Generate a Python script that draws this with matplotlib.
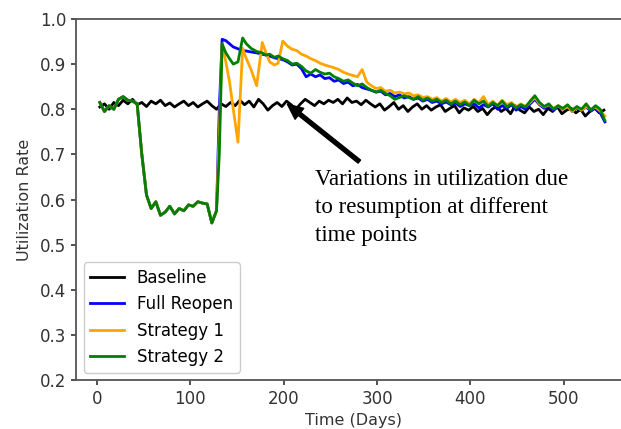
import numpy as np
import matplotlib
matplotlib.use("Agg")
import matplotlib.pyplot as plt

# baseline, every 5 days from day 3
base_days = list(range(3, 544, 5))
baseline = [
    0.805, 0.812, 0.800, 0.815, 0.808, 0.820, 0.812, 0.822, 0.810, 0.815,
    0.806, 0.818, 0.812, 0.820, 0.808, 0.814, 0.805, 0.812, 0.818, 0.808,
    0.815, 0.805, 0.812, 0.818, 0.808, 0.800, 0.812, 0.806, 0.815, 0.808,
    0.820, 0.810, 0.818, 0.805, 0.822, 0.812, 0.798, 0.808, 0.815, 0.806,
    0.818, 0.810, 0.800, 0.812, 0.822, 0.815, 0.808, 0.818, 0.812, 0.820,
    0.815, 0.822, 0.812, 0.825, 0.815, 0.818, 0.810, 0.820, 0.812, 0.805,
    0.812, 0.798, 0.806, 0.815, 0.800, 0.808, 0.795, 0.805, 0.812, 0.800,
    0.808, 0.798, 0.805, 0.810, 0.795, 0.802, 0.808, 0.792, 0.803, 0.798,
    0.806, 0.795, 0.802, 0.788, 0.800, 0.806, 0.795, 0.802, 0.790, 0.808,
    0.798, 0.792, 0.805, 0.795, 0.800, 0.788, 0.802, 0.795, 0.806, 0.790,
    0.798, 0.802, 0.792, 0.800, 0.785, 0.795, 0.803, 0.792, 0.798,
]

# lockdown phase shared by the three reopening scenarios
pre_days = list(range(3, 129, 5))
lockdown = [
    0.815, 0.795, 0.808, 0.800, 0.822, 0.828, 0.820, 0.818, 0.812, 0.700,
    0.610, 0.580, 0.595, 0.565, 0.572, 0.585, 0.568, 0.580, 0.575, 0.588,
    0.585, 0.595, 0.592, 0.590, 0.548, 0.575,
]

# after reopening
post_days = [131, 134, 138, 142, 146, 151, 156, 160, 165, 171, 177, 181,
             185, 190, 194, 199] + list(range(204, 545, 5))
full_reopen = [
    0.800, 0.955, 0.952, 0.945, 0.938, 0.934, 0.930, 0.929, 0.927, 0.925,
    0.922, 0.920, 0.918, 0.914, 0.912, 0.910,
    0.905, 0.898, 0.900, 0.890, 0.872, 0.878, 0.872, 0.876, 0.868, 0.870,
    0.862, 0.865, 0.857, 0.860, 0.852, 0.855, 0.848, 0.845, 0.842, 0.838,
    0.840, 0.832, 0.835, 0.828, 0.832, 0.825, 0.828, 0.822, 0.825, 0.818,
    0.822, 0.815, 0.818, 0.812, 0.816, 0.810, 0.814, 0.806, 0.812, 0.808,
    0.812, 0.803, 0.810, 0.805, 0.812, 0.800, 0.808, 0.802, 0.810, 0.798,
    0.806, 0.800, 0.812, 0.822, 0.810, 0.802, 0.808, 0.798, 0.806, 0.800,
    0.808, 0.795, 0.803, 0.798, 0.805, 0.796, 0.803, 0.792, 0.772,
]
strategy1 = [
    0.750, 0.945, 0.905, 0.860, 0.800, 0.727, 0.935, 0.912, 0.888, 0.852,
    0.948, 0.925, 0.905, 0.898, 0.902, 0.951,
    0.940, 0.933, 0.930, 0.922, 0.918, 0.912, 0.908, 0.902, 0.898, 0.895,
    0.892, 0.888, 0.882, 0.878, 0.875, 0.872, 0.888, 0.860, 0.852, 0.846,
    0.848, 0.840, 0.842, 0.836, 0.838, 0.834, 0.836, 0.830, 0.832, 0.826,
    0.828, 0.822, 0.826, 0.818, 0.824, 0.816, 0.822, 0.815, 0.820, 0.812,
    0.822, 0.814, 0.828, 0.810, 0.818, 0.808, 0.820, 0.810, 0.815, 0.805,
    0.812, 0.806, 0.815, 0.826, 0.812, 0.805, 0.810, 0.802, 0.808, 0.800,
    0.806, 0.795, 0.805, 0.798, 0.806, 0.800, 0.805, 0.796, 0.785,
]
strategy2 = [
    0.700, 0.945, 0.925, 0.912, 0.900, 0.905, 0.958, 0.945, 0.935, 0.928,
    0.925, 0.920, 0.922, 0.915, 0.918, 0.912,
    0.908, 0.900, 0.902, 0.895, 0.885, 0.880, 0.888, 0.882, 0.878, 0.880,
    0.872, 0.868, 0.862, 0.865, 0.858, 0.852, 0.856, 0.848, 0.842, 0.838,
    0.842, 0.835, 0.830, 0.822, 0.826, 0.830, 0.826, 0.822, 0.828, 0.820,
    0.825, 0.818, 0.822, 0.815, 0.820, 0.812, 0.818, 0.810, 0.816, 0.808,
    0.820, 0.812, 0.818, 0.806, 0.815, 0.808, 0.818, 0.805, 0.812, 0.803,
    0.810, 0.805, 0.818, 0.830, 0.815, 0.806, 0.812, 0.800, 0.808, 0.802,
    0.810, 0.798, 0.806, 0.800, 0.812, 0.798, 0.808, 0.800, 0.775,
]

fig = plt.figure(figsize=(6.21, 4.29), dpi=100)
ax = fig.add_axes([76 / 621, 49 / 429, 555 / 621, 361 / 429])

days_all = pre_days + post_days
ax.plot(base_days, baseline, color="black", lw=2, label="Baseline")
ax.plot(days_all, lockdown + full_reopen, color="blue", lw=2, label="Full Reopen")
ax.plot(days_all, lockdown + strategy1, color="orange", lw=2, label="Strategy 1")
ax.plot(days_all, lockdown + strategy2, color="green", lw=2, label="Strategy 2")

ax.set_xlim(-22.5, 572)
ax.set_ylim(0.2, 1.0)
ax.set_xticks([0, 100, 200, 300, 400, 500])
ax.set_yticks(np.arange(0.2, 1.01, 0.1))
ax.set_xlabel("Time (Days)", fontsize=11.5, color="#333333", labelpad=4)
ax.set_ylabel("Utilization Rate", fontsize=11.5, color="#333333", labelpad=6)
ax.tick_params(labelsize=12, colors="#333333", width=1.2)
for s in ax.spines.values():
    s.set_color("#555555")
    s.set_linewidth(1.3)
ax.spines["right"].set_visible(False)

ax.legend(loc="lower left", fontsize=12, framealpha=1, edgecolor="#cccccc",
          borderaxespad=0.45, handlelength=2.0)

ax.annotate("", xy=(204, 0.811), xytext=(281, 0.684),
            arrowprops=dict(facecolor="black", edgecolor="black", width=2.8,
                            headwidth=10, headlength=11, shrink=0))
ax.text(234, 0.667, "Variations in utilization due\nto resumption at different\ntime points",
        ha="left", va="top", fontsize=16.5, family="Liberation Serif", linespacing=1.42)

fig.savefig("out.png", dpi=100)
